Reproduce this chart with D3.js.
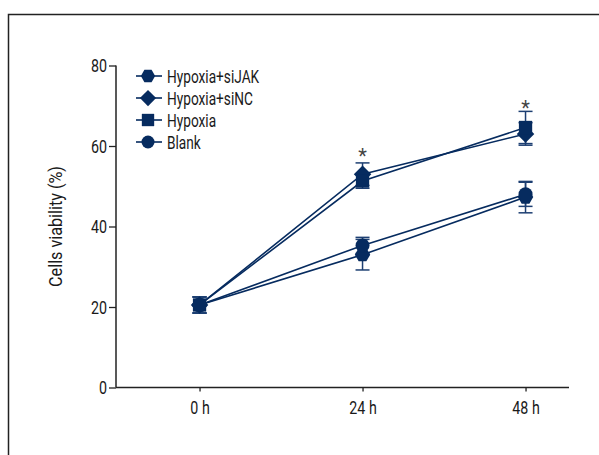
<!DOCTYPE html>
<html>
<head>
<meta charset="utf-8">
<script src="https://cdn.jsdelivr.net/npm/d3@7"></script>
<style>
  body { margin: 0; background: #fff; }
  text { font-family: Roboto, "Liberation Sans", sans-serif; }
</style>
</head>
<body>
<div class="chart"></div>
<script>
// time points (h) and their labels
const times = [0, 24, 48];
const timeLabels = ['0 h', '24 h', '48 h'];
const yTicks = [0, 20, 40, 60, 80];

// series, legend order
const groups = ['Hypoxia+siJAK', 'Hypoxia+siNC', 'Hypoxia', 'Blank'];
const shapes = ['hexagon', 'diamond', 'square', 'circle'];
const siJAK = [20.5, 33.0, 47.3];
const siNC = [20.5, 53.0, 63.0];
const hypoxia = [20.5, 51.3, 64.6];
const blank = [20.5, 35.3, 48.0];
// error bar (sd) per point
const siJAKErr = [2, 3.8, 3.9];
const siNCErr = [2, 2.8, 2.8];
const hypoxiaErr = [2, 1.8, 4];
const blankErr = [2, 2, 3];
// significance marks
const starTimes = [24, 48];
const starValues = [58.5, 70.5];

const width = 599, height = 455;
const navy = '#062b5f';
const squeeze = k => 'scale(' + k + ',1)'; // fake a condensed face

const svg = d3.select('.chart').append('svg')
    .attr('width', width)
    .attr('height', height);

// outer frame
svg.append('rect')
    .attr('x', 8.5).attr('y', 14.5)
    .attr('width', 620).attr('height', 480)
    .attr('fill', 'none')
    .attr('stroke', '#222')
    .attr('stroke-width', 1.5);

const x = d3.scaleLinear().domain([-12.3, 54.4]).range([116, 569]);
const y = d3.scaleLinear().domain([0, 80]).range([387.5, 65.5]);

// y axis
const yAxis = svg.append('g')
    .attr('transform', 'translate(116,0)')
    .call(d3.axisLeft(y).tickValues(yTicks).tickSize(7).tickPadding(5));
// x axis
const xAxis = svg.append('g')
    .attr('transform', 'translate(0,387.5)')
    .call(d3.axisBottom(x).tickValues(times).tickSize(4).tickPadding(9)
        .tickFormat((d, i) => timeLabels[i]));
[yAxis, xAxis].forEach(g => {
    g.select('.domain').attr('stroke', '#222').attr('stroke-width', 1.5)
        .attr('d', g === yAxis ? 'M0,' + y(80) + 'V' + y(0) : 'M' + x.range()[0] + ',0H' + x.range()[1]);
    g.selectAll('.tick line').attr('stroke', '#222').attr('stroke-width', 1.3);
    g.selectAll('.tick text').attr('fill', '#1a1a1a').attr('font-size', 19)
        .style('font-family', 'Roboto, sans-serif')
        .attr('transform', squeeze(0.75));
});

svg.append('text')
    .attr('transform', 'translate(62,' + (y(40)) + ') rotate(-90) ' + squeeze(0.9))
    .attr('text-anchor', 'middle')
    .attr('font-size', 18)
    .attr('fill', '#1a1a1a')
    .text('Cells viability (%)');

// marker path builder (size in px)
function marker(shape, r) {
    if (shape === 'circle') return d3.symbol(d3.symbolCircle, Math.PI * r * r)();
    if (shape === 'square') return d3.symbol(d3.symbolSquare, (r * 1.9) * (r * 1.9))();
    let pts;
    if (shape === 'diamond') pts = [[0, -r * 1.25], [r * 1.25, 0], [0, r * 1.25], [-r * 1.25, 0]];
    else pts = d3.range(6).map(i => [Math.cos(i * Math.PI / 3) * r * 1.1, Math.sin(i * Math.PI / 3) * r * 1.1]);
    return 'M' + pts.join('L') + 'Z';
}

const series = [
    {name: groups[0], shape: shapes[0], values: siJAK, err: siJAKErr},
    {name: groups[1], shape: shapes[1], values: siNC, err: siNCErr},
    {name: groups[2], shape: shapes[2], values: hypoxia, err: hypoxiaErr},
    {name: groups[3], shape: shapes[3], values: blank, err: blankErr},
];

const line = d3.line().x(d => x(d.t)).y(d => y(d.v));

// error bars
series.forEach(s => {
    const g = svg.append('g').attr('stroke', '#1d3f72').attr('stroke-width', 1.5);
    s.values.forEach((v, i) => {
        const cx = x(times[i]);
        g.append('line').attr('x1', cx).attr('x2', cx).attr('y1', y(v - s.err[i])).attr('y2', y(v + s.err[i]));
        [v - s.err[i], v + s.err[i]].forEach(e => {
            g.append('line').attr('x1', cx - 7).attr('x2', cx + 7).attr('y1', y(e)).attr('y2', y(e));
        });
    });
});

// lines
series.forEach(s => {
    svg.append('path')
        .datum(s.values.map((v, i) => ({t: times[i], v: v})))
        .attr('d', line)
        .attr('fill', 'none')
        .attr('stroke', navy)
        .attr('stroke-width', 1.6);
});

// markers
series.forEach(s => {
    svg.selectAll(null)
        .data(s.values)
        .enter()
        .append('path')
        .attr('d', marker(s.shape, 7))
        .attr('transform', (v, i) => 'translate(' + x(times[i]) + ',' + y(v) + ')')
        .attr('fill', navy);
});

// stars
svg.selectAll('.star')
    .data(starTimes)
    .enter()
    .append('text')
    .attr('class', 'star')
    .attr('x', d => x(d))
    .attr('y', (d, i) => y(starValues[i]) + 11)
    .attr('text-anchor', 'middle')
    .attr('font-size', 20)
    .attr('fill', '#444')
    .text('*');

// legend
const legend = svg.append('g').attr('transform', 'translate(148,76)');
series.forEach((s, i) => {
    const row = legend.append('g').attr('transform', 'translate(0,' + (i * 22) + ')');
    row.append('line').attr('x1', -12).attr('x2', 14).attr('stroke', navy).attr('stroke-width', 1.6);
    row.append('path').attr('d', marker(s.shape, 6.5)).attr('fill', navy);
    row.append('text')
        .attr('transform', 'translate(19,6.5) ' + squeeze(0.72))
        .attr('font-size', 19)
        .attr('fill', '#1a1a1a')
        .text(s.name);
});
</script>
</body>
</html>
